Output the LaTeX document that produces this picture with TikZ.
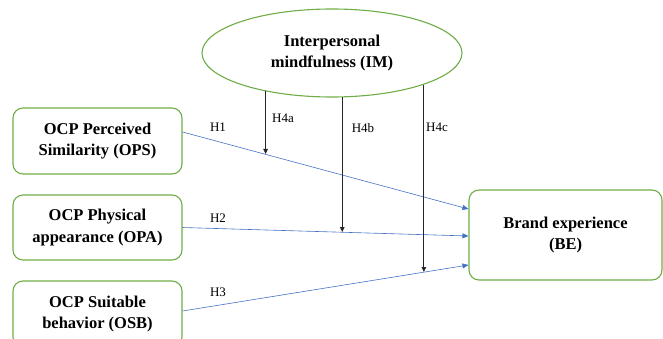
\documentclass[tikz,border=0pt]{standalone}
\usepackage{fontspec}
\setmainfont{Liberation Serif}[BoldFont={Liberation Serif Bold}]
\usetikzlibrary{arrows.meta,positioning,shapes}
\definecolor{boxgreen}{RGB}{112,173,71}
\definecolor{linkblue}{RGB}{68,114,196}

\begin{document}
\begin{tikzpicture}[x=1pt,y=-1pt,
  box/.style={draw=boxgreen,line width=1.1pt,rounded corners=10pt,align=center,font=\fontsize{16.5}{21.5}\selectfont\bfseries,inner sep=0pt},
  link/.style={-{Triangle[length=6pt,width=5pt]},draw=linkblue,line width=.6pt},
  moder/.style={-{Triangle[length=5pt,width=4.5pt]},line width=1pt,draw=black!85},
  hlab/.style={font=\fontsize{13}{15}\selectfont}]
\clip (0,0) rectangle (663,339);
\node[box,minimum width=169pt,minimum height=66pt] (ops) at (97.5,141) {OCP Perceived\\Similarity (OPS)};
\node[box,minimum width=169pt,minimum height=65pt] (opa) at (97.5,227.5) {OCP Physical\\appearance (OPA)};
\node[box,minimum width=169pt,minimum height=66pt] (osb) at (97.5,314) {OCP Suitable\\behavior (OSB)};
\node[box,minimum width=193pt,minimum height=90pt] (be) at (565.5,235) {Brand experience\\(BE)};
\node[draw=boxgreen,line width=1.1pt,ellipse,inner sep=0pt,minimum width=260pt,minimum height=88pt,align=center,font=\fontsize{16.5}{21.5}\selectfont\bfseries] (im) at (332,53) {\raisebox{-3pt}{Interpersonal}\\\raisebox{-3pt}{mindfulness (IM)}};
\draw[link] ([yshift=9pt]ops.east) -- ([yshift=26pt]be.west);
\draw[link] (opa.east) -- ([yshift=-1pt]be.west);
\draw[link] ([yshift=3pt]osb.east) -- ([yshift=-30pt]be.west);
\coordinate (j1) at (266,154);
\coordinate (j2) at (342,232);
\coordinate (j3) at (421,272);
\draw[moder] (im.-150) -- (im.-150 |- j1);
\draw[moder] (im.-77.2) -- (im.-77.2 |- j2);
\draw[moder] (im.-19.8) -- (im.-19.8 |- j3);
\node[hlab] (h1) at (218,127) {H1};
\node[hlab] (h2) at (218,218) {H2};
\node[hlab] (h3) at (218,292) {H3};
\node[hlab] (h4a) at (283,118) {H4a};
\node[hlab] (h4b) at (363,128) {H4b};
\node[hlab] (h4c) at (437,127) {H4c};
\end{tikzpicture}
\end{document}
